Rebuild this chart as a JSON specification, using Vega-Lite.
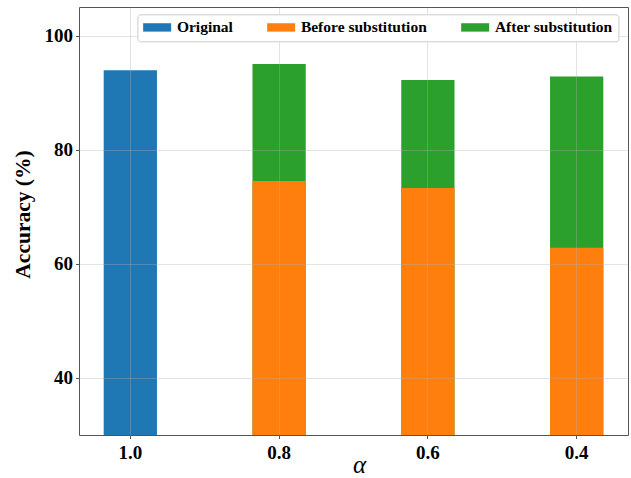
{
  "$schema": "https://vega.github.io/schema/vega-lite/v6.json",
  "width": 549,
  "height": 428,
  "autosize": {"type": "none"},
  "padding": {"left": 79, "top": 7, "right": 3, "bottom": 43},
  "config": {
    "view": {"stroke": "#555", "strokeWidth": 1},
    "font": "Liberation Serif"
  },
  "data": {
    "values": [
      {"alpha": "1.0", "series": "Original", "value": 93.9},
      {"alpha": "0.8", "series": "After substitution", "value": 95.0},
      {"alpha": "0.6", "series": "After substitution", "value": 92.2},
      {"alpha": "0.4", "series": "After substitution", "value": 92.8},
      {"alpha": "0.8", "series": "Before substitution", "value": 74.5},
      {"alpha": "0.6", "series": "Before substitution", "value": 73.3},
      {"alpha": "0.4", "series": "Before substitution", "value": 62.8}
    ]
  },
  "mark": {"type": "bar", "clip": true},
  "encoding": {
    "x": {
      "field": "alpha",
      "type": "nominal",
      "sort": ["1.0", "0.8", "0.6", "0.4"],
      "scale": {"paddingInner": 0.642, "paddingOuter": 0.166},
      "title": "α",
      "axis": {
        "labelAngle": 0,
        "labelFont": "Liberation Serif",
        "labelFontSize": 19,
        "labelFontWeight": "bold",
        "labelColor": "black",
        "labelPadding": 5,
        "tickSize": 3.5,
        "tickColor": "#555",
        "domain": false,
        "grid": true,
        "gridColor": "#b0b0b0",
        "gridOpacity": 0.35,
        "bandPosition": 0.5,
        "zindex": 1,
        "titleFont": "Liberation Serif",
        "titleFontStyle": "italic",
        "titleFontWeight": "normal",
        "titleFontSize": 25,
        "titleColor": "black",
        "titleBaseline": "alphabetic",
        "titleAlign": "center",
        "titleX": 280,
        "titleY": 37
      }
    },
    "y": {
      "field": "value",
      "type": "quantitative",
      "stack": null,
      "scale": {"domain": [30, 105], "nice": false, "zero": false},
      "title": "Accuracy (%)",
      "axis": {
        "values": [40, 60, 80, 100],
        "labelFont": "Liberation Serif",
        "labelFontSize": 19,
        "labelFontWeight": "bold",
        "labelColor": "black",
        "labelPadding": 3,
        "tickSize": 3.5,
        "tickColor": "#555",
        "domain": false,
        "grid": true,
        "gridColor": "#b0b0b0",
        "gridOpacity": 0.35,
        "zindex": 1,
        "titleFont": "Liberation Serif",
        "titleFontWeight": "bold",
        "titleFontSize": 21.5,
        "titleColor": "black",
        "titleAngle": -90,
        "titleBaseline": "alphabetic",
        "titleAlign": "center",
        "titleX": -50,
        "titleY": 207
      }
    },
    "color": {
      "field": "series",
      "type": "nominal",
      "scale": {
        "domain": ["Original", "Before substitution", "After substitution"],
        "range": ["#1f77b4", "#ff7f0e", "#2ca02c"]
      },
      "legend": {
        "title": null,
        "orient": "none",
        "legendX": 58.4,
        "legendY": 7.3,
        "direction": "horizontal",
        "columns": 3,
        "fillColor": "white",
        "strokeColor": "#cccccc",
        "cornerRadius": 3,
        "padding": 5,
        "symbolType": "M-1,-0.6H3V0.6H-1Z",
        "symbolSize": 196,
        "symbolStrokeWidth": 0,
        "symbolOpacity": 1,
        "labelFont": "Liberation Serif",
        "labelFontSize": 15.5,
        "labelFontWeight": "bold",
        "labelColor": "black",
        "labelOffset": 19,
        "columnPadding": 33,
        "zindex": 2
      }
    }
  }
}
